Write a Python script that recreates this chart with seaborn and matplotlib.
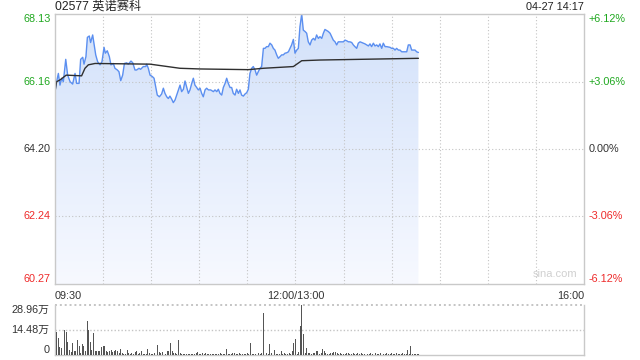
import numpy as np
import pandas as pd
import matplotlib
matplotlib.use("Agg")
import matplotlib.pyplot as plt
import matplotlib.transforms as mtransforms
from matplotlib.colors import LinearSegmentedColormap
import seaborn as sns

# ---------------- data ----------------
title = "02577 英诺赛科"
stamp = "04-27 14:17"
watermark = "sina.com"
price_ticks = [68.13, 66.16, 64.20, 62.24, 60.27]
pct_labels = ["+6.12%", "+3.06%", "0.00%", "-3.06%", "-6.12%"]
time_labels = ["09:30", "12:00/13:00", "16:00"]
time_label_min = [0, 150, 330]
vol_ticks = [28.96, 14.48, 0]
vol_labels = ["28.96万", "14.48万", "0"]

# minutes since 09:30 (lunch break removed)
price_min = [
    0, 1.0, 2.1, 3.1, 4.2, 5.2, 6.7, 7.9, 9.4, 11.0,
    12.5, 13.5, 15.0, 16.0, 17.3, 18.1, 19.3, 20.2, 21.4, 22.2,
    23.5, 24.3, 25.4, 26.6, 28.1, 29.3, 30.6, 31.4, 32.6, 33.9,
    34.9, 36.4, 37.4, 38.9, 39.9, 41.0, 42.2, 43.3, 44.7, 45.7,
    47.4, 48.5, 49.9, 50.9, 52.4, 53.4, 55.1, 56.6, 57.2, 58.2,
    59.3, 60.7, 61.8, 62.8, 63.8, 65.1, 66.5, 67.6, 68.6, 69.7,
    70.7, 71.7, 72.8, 73.8, 74.9, 75.9, 76.9, 78.0, 79.0, 80.1,
    81.1, 82.1, 83.2, 84.2, 85.3, 86.3, 87.3, 88.4, 89.4, 90.5,
    91.5, 92.5, 93.6, 94.6, 95.7, 97.1, 98.8, 99.8, 100.9, 101.9,
    102.9, 104.0, 105.0, 106.1, 107.1, 108.1, 109.2, 110.2, 111.2, 112.3,
    113.3, 114.4, 115.4, 116.4, 117.5, 118.5, 119.6, 120.6, 121.6, 122.7,
    123.7, 124.8, 125.8, 126.8, 127.9, 128.9, 130.0, 131.0, 132.0, 133.1,
    134.1, 135.2, 136.2, 137.2, 138.3, 139.3, 140.4, 141.4, 142.4, 143.5,
    144.5, 145.6, 146.6, 147.6, 148.7, 149.7, 150.8, 151.8, 152.8, 153.9,
    154.9, 156.0, 157.0, 158.0, 159.1, 160.1, 161.2, 162.2, 163.2, 164.3,
    165.3,
    166.4, 167.4, 168.4, 169.5, 170.5, 171.6, 172.6, 173.6, 174.7, 175.7,
    176.7, 177.8, 179.9, 180.9, 182.0, 183.0, 184.0, 185.1, 186.1, 187.1,
    188.2, 189.2, 190.3, 191.3, 192.3, 193.4, 194.4, 195.5, 196.5, 197.5,
    198.6, 199.6, 200.7, 201.7, 202.7, 203.8, 204.8, 205.9, 206.9, 209.0,
    210.0, 211.1, 212.1, 213.1, 214.2, 215.2, 216.3, 217.3, 218.3, 219.4,
    220.4, 221.5, 222.5, 223.5, 224.6, 225.6, 226.7,
]
price = [
    65.87, 66.16, 66.40, 66.06, 66.26, 66.16, 66.81, 66.35, 66.16, 66.09,
    66.40, 66.11, 66.11, 66.81, 66.87, 66.67, 66.89, 67.45, 67.49, 67.30,
    67.52, 67.28, 66.94, 66.74, 66.65, 66.74, 67.16, 66.99, 67.06, 66.89,
    66.65, 66.69, 66.55, 66.50, 66.45, 66.19, 66.35, 66.69, 66.71, 66.67,
    66.76, 66.71, 66.50, 66.50, 66.55, 66.52, 66.60, 66.60, 66.67, 66.55,
    66.35, 66.31, 66.26, 66.01, 65.77, 65.72, 65.80, 65.97, 65.82, 65.72,
    65.67, 65.74, 65.65, 65.55, 65.63, 65.77, 65.92, 66.06, 65.87, 65.94,
    66.18, 66.01, 65.82, 65.92, 66.11, 66.26, 66.06, 65.99, 65.92, 65.97,
    65.82, 65.72, 65.92, 65.97, 65.92, 65.92, 65.87, 65.92, 65.87, 65.94,
    65.82, 65.77, 65.99, 66.11, 66.26, 66.11, 65.99, 65.99, 65.82, 65.77,
    65.94, 65.82, 65.92, 65.77, 65.74, 65.80, 65.84, 65.94, 66.40, 66.55,
    66.60, 66.50, 66.35, 66.45, 66.55, 66.60, 67.13, 67.13, 67.18, 67.18,
    67.28, 67.23, 67.13, 67.08, 66.94, 66.84, 66.89, 66.94, 66.94, 66.99,
    67.00, 67.03, 67.13, 67.23, 67.39, 66.99, 67.08, 67.13, 67.76, 68.13,
    67.66, 67.62, 67.57, 67.32, 67.23, 67.37, 67.42, 67.37, 67.52, 67.42,
    67.47,
    67.42, 67.57, 67.68, 67.65, 67.62, 67.57, 67.47, 67.37, 67.32, 67.23,
    67.32, 67.32, 67.32, 67.37, 67.35, 67.32, 67.32, 67.30, 67.23, 67.18,
    67.13, 67.28, 67.32, 67.30, 67.28, 67.26, 67.23, 67.20, 67.26, 67.18,
    67.28, 67.20, 67.23, 67.18, 67.26, 67.13, 67.28, 67.18, 67.18, 67.16,
    67.13, 67.13, 67.08, 67.13, 67.08, 67.08, 67.03, 67.03, 67.03, 67.03,
    67.23, 67.23, 67.08, 67.08, 67.08, 67.03, 67.01,
]

avg_min = [0, 1.0, 3.1, 7.0, 16.6, 18.7, 20.8, 25.0, 59.3, 77.9,
           90.5, 120.6, 130.0, 148.7, 153.9, 165.3, 226.7]
avg_price = [65.87, 66.16, 66.21, 66.35, 66.33, 66.55, 66.65, 66.69, 66.67, 66.55,
             66.53, 66.51, 66.55, 66.60, 66.77, 66.79, 66.84]

# volume per minute (万), minutes 0..227
volume = [
    10.2, 13.1, 9.6, 4.3, 3.9, 5.8, 14.3, 13.1, 7.3, 2.9,
    1.5, 6.8, 1.9, 2.3, 8.5, 4.8, 1.0, 6.2, 4.8, 2.3,
    19.7, 14.3, 7.3, 2.9, 12.5, 2.3, 2.3, 2.3, 1.9, 4.3,
    4.8, 4.8, 1.9, 1.5, 2.3, 2.9, 1.5, 2.3, 2.9, 1.9,
    0.8, 3.5, 1.0, 0.4, 0.6, 2.9, 1.0, 0.4, 1.0, 0.6,
    1.5, 1.9, 0.4, 0.8, 2.3, 0.4, 0.4, 0.6, 3.5, 1.0,
    0.4, 0.6, 1.0, 1.0, 5.8, 1.5, 1.0, 1.3, 1.0, 0.6,
    1.9, 2.3, 6.8, 1.9, 0.8, 1.0, 0.4, 8.5, 1.0, 0.4,
    0.6, 0.4, 0.3, 0.5, 0.4, 0.6, 0.3, 0.5, 0.8, 1.4,
    0.6, 0.4, 1.0, 0.5, 0.8, 0.4, 0.6, 0.3, 0.5, 0.4,
    0.6, 0.4, 0.5, 0.8, 0.4, 0.3, 0.6, 3.5, 0.6, 0.4,
    0.5, 0.8, 1.0, 0.6, 0.3, 1.0, 0.4, 0.6, 0.3, 0.5,
    0.8, 0.5, 6.8, 0.5, 0.3, 0.6, 1.0, 1.0, 0.5, 1.2,
    24.1, 0.6, 1.2, 0.5, 6.2, 0.8, 1.2, 2.9, 0.6, 0.4,
    0.3, 2.3, 0.4, 1.0, 0.3, 0.6, 1.0, 0.4, 1.9, 6.8,
    9.3, 0.5, 1.6, 16.4, 28.96, 12.0, 1.0, 3.9, 0.8, 1.0,
    0.4, 1.0, 0.8, 1.9, 2.3, 0.6, 1.0, 3.5, 1.9, 1.2,
    0.4, 0.3, 0.8, 1.0, 1.4, 1.5, 1.0, 0.4, 0.8, 0.6,
    0.5, 0.3, 0.8, 1.0, 0.4, 0.6, 1.2, 0.5, 0.3, 0.8,
    0.6, 1.0, 0.4, 0.5, 0.8, 0.3, 0.6, 1.0, 0.4, 0.5,
    0.8, 0.6, 0.4, 1.0, 0.5, 0.3, 0.6, 0.8, 0.4, 0.5,
    1.0, 0.6, 0.3, 0.8, 0.5, 0.4, 0.6, 1.2, 0.5, 0.3,
    2.5, 0.5, 4.8, 0.6, 0.4, 0.3, 0.6, 0.5,
]
vol_min = list(range(len(volume)))

# ---------------- style ----------------
sns.set_style("white")
plt.rcParams["font.family"] = ["Liberation Sans", "Noto Sans CJK SC", "DejaVu Sans"]

W, H = 640, 360
fig = plt.figure(figsize=(6.4, 3.6), dpi=100)
fig.patch.set_facecolor("white")
ax = fig.add_axes([55 / W, 1 - 284 / H, 529 / W, 270 / H])
axv = fig.add_axes([55 / W, 1 - 354.7 / H, 529 / W, 50.2 / H])

spine_c = "#c9c9c9"
grid_c = "#c4c4c4"
green = "#1fa81f"
red = "#ee2a2a"
dark = "#333333"

n = min(len(price_min), len(price))
df = pd.DataFrame({"t": price_min[:n], "p": price[:n]})
dfa = pd.DataFrame({"t": avg_min, "p": avg_price})

ymin, ymax = price_ticks[-1], price_ticks[0]

# gradient area under the price line
poly = ax.fill_between(df["t"], df["p"], ymin, facecolor="none", edgecolor="none")
cmap = LinearSegmentedColormap.from_list("g", ["#f7f9ff", "#d2e1fa"])
grad = np.linspace(0, 1, 256).reshape(-1, 1)
im = ax.imshow(grad, extent=[0, 330, ymin, ymax], origin="lower", cmap=cmap,
               aspect="auto", zorder=1, interpolation="bilinear")
im.set_clip_path(poly.get_paths()[0], transform=ax.transData)

sns.lineplot(data=df, x="t", y="p", ax=ax, color="#5b8ff0", lw=1.0, zorder=3,
             estimator=None, sort=False)
sns.lineplot(data=dfa, x="t", y="p", ax=ax, color="#2f2f2f", lw=1.0, zorder=4,
             estimator=None, sort=False)

ax.set_xlim(0, 330)
ax.set_ylim(ymin, ymax)
ax.set_xticks(np.arange(30, 330, 30))
ax.set_yticks(price_ticks[1:-1])
ax.set_axisbelow(False)
ax.grid(True, linestyle=(0, (1, 2)), color=grid_c, lw=0.8, zorder=2)
ax.tick_params(length=0, labelleft=False, labelbottom=False)
ax.set_xlabel("")
ax.set_ylabel("")
for s in ax.spines.values():
    s.set_color(spine_c)
    s.set_linewidth(1.0)
    s.set_zorder(5)

# price / percent labels
trans = mtransforms.blended_transform_factory(ax.transAxes, ax.transData)
cols = [green, green, dark, red, red]
vas = ["top", "center", "center", "center", "bottom"]
for v, pl, c, va in zip(price_ticks, pct_labels, cols, vas):
    ax.text(-0.008, v, f"{v:.2f}", transform=trans, ha="right", va=va,
            color=c, fontsize=7.8)
    ax.text(1.009, v, pl, transform=trans, ha="left", va=va, color=c, fontsize=7.8)

# time labels
transx = mtransforms.blended_transform_factory(ax.transData, ax.transAxes)
has = ["left", "center", "right"]
for tl, tm, ha in zip(time_labels, time_label_min, has):
    ax.text(tm, -0.025, tl, transform=transx, ha=ha, va="top", color=dark, fontsize=7.8)

ax.text(0.987, 0.02, watermark, transform=ax.transAxes, ha="right", va="bottom",
        color="#d0d0d0", fontsize=8)

fig.text(55 / W, 1 - 7.5 / H, title, ha="left", va="center", fontsize=8.8, color="#222222")
fig.text(584 / W, 1 - 7.5 / H, stamp, ha="right", va="center", fontsize=7.8, color="#222222")

# ---------------- volume ----------------
dv = pd.DataFrame({"t": vol_min, "v": volume})
sns.barplot(data=dv, x="t", y="v", ax=axv, native_scale=True, color="#555555",
            width=0.6, errorbar=None, saturation=1, linewidth=0, zorder=3)
axv.set_xlim(0, 330)
axv.set_ylim(0, vol_ticks[0])
axv.set_xticks([])
axv.set_yticks([])
axv.set_xlabel("")
axv.set_ylabel("")
axv.axhline(vol_ticks[1], color=grid_c, lw=1.0, linestyle=(0, (1, 1.5)), zorder=1)
axv.axhline(vol_ticks[0], color=grid_c, lw=1.4, linestyle=(0, (1, 1.5)), zorder=1,
            clip_on=False)
axv.spines["top"].set_visible(False)
for k in ["left", "right", "bottom"]:
    axv.spines[k].set_color(spine_c)
    axv.spines[k].set_linewidth(1.0)
transv = mtransforms.blended_transform_factory(axv.transAxes, axv.transData)
for v, vl, va in zip(vol_ticks, vol_labels, ["top", "center", "bottom"]):
    axv.text(-0.01, v, vl, transform=transv, ha="right", va=va, color=dark, fontsize=7.8)

fig.savefig("out.png", dpi=100)
